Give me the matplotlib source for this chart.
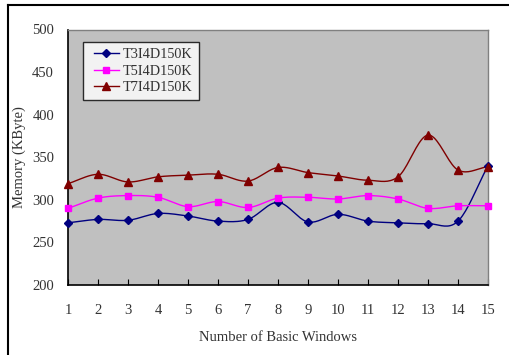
import numpy as np
import matplotlib
matplotlib.use("Agg")
import matplotlib.pyplot as plt
from matplotlib.lines import Line2D
from matplotlib.legend_handler import HandlerLine2D

x_vals = list(range(1, 16))
t3 = [273, 277, 276, 284, 281, 275, 277, 297, 274, 283, 275, 273, 272, 275, 340]
t5 = [290, 302, 305, 303, 292, 298, 291, 302, 303, 301, 305, 301, 290, 293, 293]
t7 = [319, 330, 321, 327, 329, 330, 322, 338, 332, 328, 323, 327, 376, 335, 339]
series_names = ["T3I4D150K", "T5I4D150K", "T7I4D150K"]
colors = ["#000080", "#FF00FF", "#800000"]
markers = ["D", "s", "^"]
msizes = [4, 5, 6]

plt.rcParams['font.family'] = ['Liberation Serif', 'DejaVu Serif']


def smooth(xs, ys, n=20):
    xs = np.asarray(xs, float)
    ys = np.asarray(ys, float)
    px = np.concatenate([[2 * xs[0] - xs[1]], xs, [2 * xs[-1] - xs[-2]]])
    py = np.concatenate([[2 * ys[0] - ys[1]], ys, [2 * ys[-1] - ys[-2]]])
    ox, oy = [], []
    for i in range(1, len(px) - 2):
        t = np.linspace(0, 1, n, endpoint=False)
        for arr, out in ((px, ox), (py, oy)):
            p0, p1, p2, p3 = arr[i - 1], arr[i], arr[i + 1], arr[i + 2]
            out.extend(0.5 * ((2 * p1) + (-p0 + p2) * t
                              + (2 * p0 - 5 * p1 + 4 * p2 - p3) * t ** 2
                              + (-p0 + 3 * p1 - 3 * p2 + p3) * t ** 3))
    ox.append(xs[-1]); oy.append(ys[-1])
    return np.array(ox), np.array(oy)


fig = plt.figure(figsize=(5.1, 3.55), dpi=100)
# outer frame (top and left lines)
fig.add_artist(Line2D([8 / 510, 8 / 510], [0, 1 - 5 / 355], color="black", lw=1.5,
                      transform=fig.transFigure))
fig.add_artist(Line2D([8 / 510, 1], [1 - 5 / 355, 1 - 5 / 355], color="black", lw=1.5,
                      transform=fig.transFigure))

ax = fig.add_axes([68 / 510, 70 / 355, 420 / 510, 255.5 / 355])
ax.set_facecolor("#C0C0C0")

handles = []
for ys, c, m, ms, name in zip([t3, t5, t7], colors, markers, msizes, series_names):
    sx, sy = smooth(x_vals, ys)
    ax.plot(sx, sy, color=c, lw=1.0, zorder=3)
    ax.plot(x_vals, ys, linestyle="none", marker=m, color=c, markersize=ms, zorder=4,
            clip_on=False)
    handles.append(Line2D([0], [0], color=c, lw=1.0, marker=m, markersize=ms))

ax.set_xlim(1, 15)
ax.set_ylim(200, 500)
ax.set_xticks(x_vals)
ax.set_yticks([200, 250, 300, 350, 400, 450, 500])
ax.tick_params(axis="x", direction="in", length=4, pad=14, labelsize=10.5, colors="black",
               labelcolor="#333333")
ax.tick_params(axis="y", direction="in", length=0, pad=10, labelsize=10.5,
               labelcolor="#333333")
for s in ["top", "right"]:
    ax.spines[s].set_color("#808080")
    ax.spines[s].set_linewidth(1.0)
for s in ["bottom", "left"]:
    ax.spines[s].set_color("black")
    ax.spines[s].set_linewidth(1.2)

ax.set_xlabel("Number of Basic Windows", fontsize=10.5, color="#333333", labelpad=10)
ax.set_ylabel("Memory (KByte)", fontsize=10.5, color="#333333")
ax.yaxis.set_label_coords(-0.1, 0.5)

leg = ax.legend(handles, series_names, loc="upper left", bbox_to_anchor=(0.036, 0.95),
                frameon=True, fancybox=False, fontsize=10.3, handlelength=2.1,
                borderpad=0.4, labelspacing=0.25, handletextpad=0.3, borderaxespad=0,
                handler_map={Line2D: HandlerLine2D(xpad=0.35)})
leg.get_frame().set_edgecolor("black")
leg.get_frame().set_facecolor("white")
leg.get_frame().set_linewidth(1.0)
for t in leg.get_texts():
    t.set_color("#333333")

fig.savefig("out.png", dpi=100)
